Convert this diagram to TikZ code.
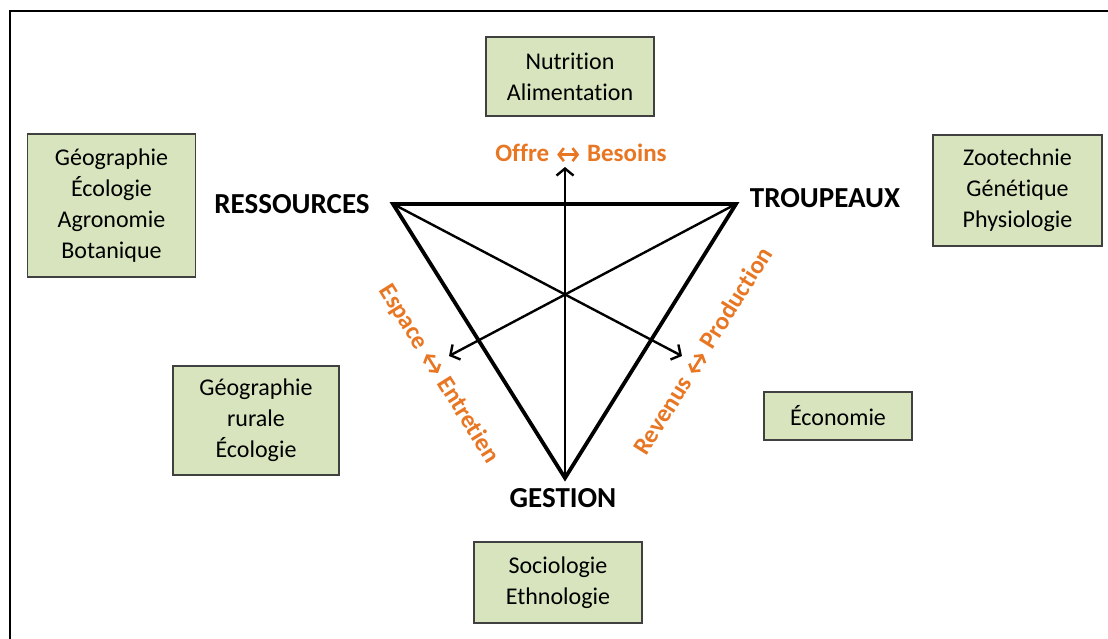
\documentclass[tikz,border=0pt]{standalone}
\usepackage{fontspec}
\setmainfont{Carlito}[Ligatures=NoCommon]
\usetikzlibrary{arrows.meta}
\definecolor{boxfill}{RGB}{215,228,189}
\definecolor{boxline}{RGB}{64,64,64}
\definecolor{orng}{RGB}{232,118,34}
\tikzset{dblarrow/.style={draw=orng,line width=2.6pt,line cap=round,{Straight Barb[length=5pt,width=13pt]}-{Straight Barb[length=5pt,width=13pt]}}}
\newcommand{\lr}{\hspace{1pt}\tikz[baseline=0pt,x=1pt,y=1pt]{\draw[dblarrow] (0,6.5) -- (22,6.5);}\hspace{1pt}}
\begin{document}
\begin{tikzpicture}[x=1pt,y=-1pt,
 disc/.style={draw=boxline,line width=1.5pt,fill=boxfill,align=center,inner sep=0pt,font=\fontsize{24}{31}\selectfont},
 pole/.style={inner sep=0pt,font=\bfseries\fontsize{29}{34}\selectfont},
 rel/.style={text=orng,inner sep=0pt,font=\bfseries\fontsize{25}{29}\selectfont},
 tri/.style={line width=3.8pt,line join=miter},
 axis/.style={line width=2.4pt,-{Straight Barb[length=7pt,width=17pt]}}]
\fill[white] (0,0) rectangle (1108,639);
\useasboundingbox (0,0) rectangle (1108,639);
\draw[line width=2pt] (9.5,639) -- (9.5,11) -- (1108,11);

% boxes
\node[disc,minimum width=168pt,minimum height=79pt] (nutri) at (570,76.5) {Nutrition\\Alimentation};
\node[disc,minimum width=168pt,minimum height=143pt] (geo) at (111.5,205.5) {Géographie\\Écologie\\Agronomie\\Botanique};
\node[disc,minimum width=169pt,minimum height=111pt] (zoo) at (1017.5,190.5) {Zootechnie\\Génétique\\Physiologie};
\node[disc,minimum width=166pt,minimum height=109pt] (georur) at (256,420.5) {Géographie\\rurale\\Écologie};
\node[disc,minimum width=148pt,minimum height=48pt] (eco) at (838,416) {Économie};
\node[disc,minimum width=168pt,minimum height=81pt] (socio) at (558,582.5) {Sociologie\\Ethnologie};

% poles
\node[pole] (ress) at (292,204) {RESSOURCES};
\node[pole] (troup) at (825,198) {TROUPEAUX};
\node[pole] (gest) at (563,498) {GESTION};

% triangle
\coordinate (vR) at (393,204);
\coordinate (vT) at (736,204);
\coordinate (vG) at (565,478);
\draw[tri] (vR) -- (vT) -- (vG) -- cycle;

% axes
\coordinate (aTop) at (565,167);
\coordinate (aLeft) at (449,356);
\coordinate (aRight) at (682,356);
\draw[axis] (vG) -- (aTop);
\draw[axis] (vT) -- (aLeft);
\draw[axis] (vR) -- (aRight);

% relations
\node[rel] (ob) at (581,153) {Offre \lr\ Besoins};
\node[rel,rotate=-58] (ee) at (439,374) {Espace \lr\ Entretien};
\node[rel,rotate=58] (rp) at (703,351) {Revenus \lr\ Production};
\end{tikzpicture}
\end{document}
